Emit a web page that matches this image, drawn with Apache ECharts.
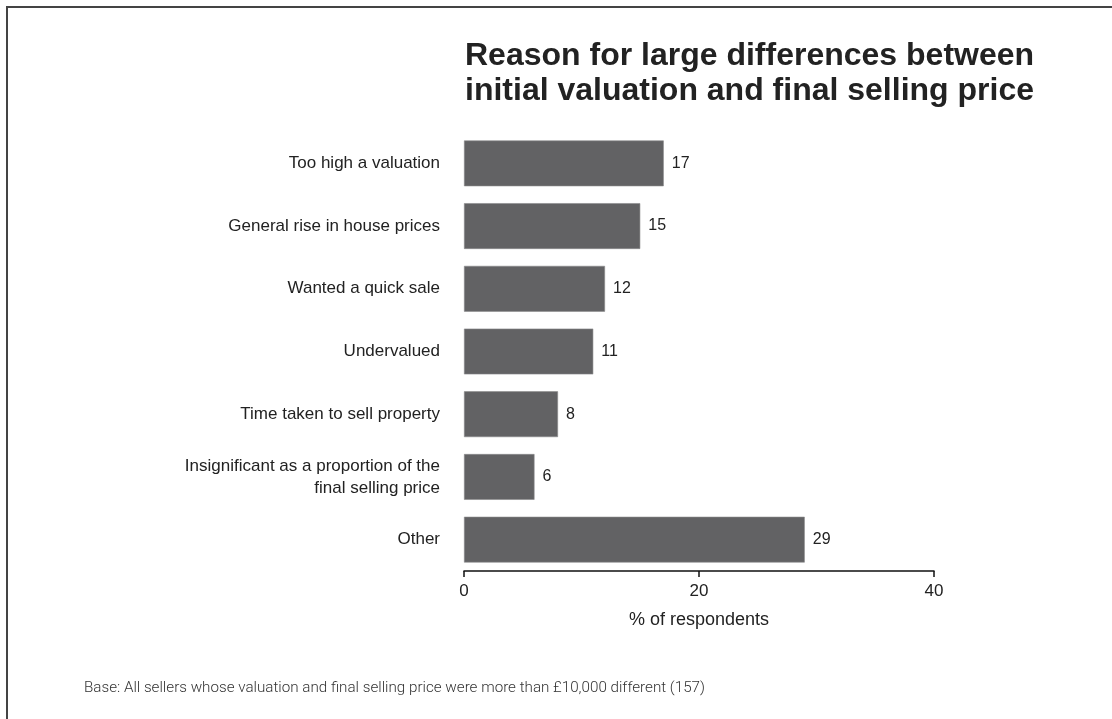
<!DOCTYPE html>
<html>
<head>
<meta charset="utf-8">
<style>
  html, body { margin: 0; padding: 0; background: #fff; }
  #chart { width: 1112px; height: 719px; }
</style>
<script src="https://cdn.jsdelivr.net/npm/echarts@6/dist/echarts.min.js"></script>
</head>
<body>
<div id="chart"></div>
<script>
// Reasons, listed top to bottom
const categories = [
  'Too high a valuation',
  'General rise in house prices',
  'Wanted a quick sale',
  'Undervalued',
  'Time taken to sell property',
  'Insignificant as a proportion of the\nfinal selling price',
  'Other'
];
// Share of respondents (%)
const values = [17, 15, 12, 11, 8, 6, 29];
const xTicks = [0, 20, 40];

const chart = echarts.init(document.getElementById('chart'));

chart.setOption({
  backgroundColor: '#ffffff',
  animation: false,
  title: {
    text: 'Reason for large differences between\ninitial valuation and final selling price',
    left: 460,
    top: 34,
    textStyle: {
      fontFamily: 'Liberation Sans',
      fontWeight: 'bold',
      fontSize: 32,
      lineHeight: 35,
      color: '#222'
    }
  },
  grid: { left: 464, right: 178, top: 132, bottom: 148, containLabel: false },
  xAxis: {
    type: 'value',
    min: xTicks[0],
    max: xTicks[xTicks.length - 1],
    interval: xTicks[1] - xTicks[0],
    name: '% of respondents',
    nameLocation: 'middle',
    nameGap: 40,
    nameTextStyle: { fontFamily: 'Liberation Sans', fontSize: 18, color: '#222' },
    axisLine: { show: true, lineStyle: { color: '#111', width: 1.5 } },
    axisTick: { show: true, length: 6, lineStyle: { color: '#111', width: 1.5 } },
    axisLabel: { fontFamily: 'Liberation Sans', fontSize: 17, color: '#222', margin: 12 },
    splitLine: { show: false }
  },
  yAxis: {
    type: 'category',
    data: categories,
    inverse: true,
    axisLine: { show: false },
    axisTick: { show: false },
    axisLabel: {
      fontFamily: 'Liberation Sans',
      fontSize: 17,
      lineHeight: 22,
      color: '#222',
      margin: 24,
      align: 'right'
    }
  },
  series: [{
    type: 'bar',
    data: values,
    barCategoryGap: '27%',
    itemStyle: { color: '#626264', borderColor: '#8a8a8c', borderWidth: 0.6 },
    label: {
      show: true,
      position: 'right',
      distance: 8,
      fontFamily: 'Liberation Sans',
      fontSize: 16,
      color: '#222'
    }
  }],
  graphic: [
    {
      type: 'polyline',
      shape: { points: [[7, 719], [7, 7], [1112, 7]] },
      style: { stroke: '#444', lineWidth: 2, fill: null }
    },
    {
      type: 'text',
      left: 84,
      top: 681,
      style: {
        text: 'Base: All sellers whose valuation and final selling price were more than \u00a310,000 different (157)',
        fontFamily: 'Roboto',
        fontWeight: 300,
        fontSize: 15.2,
        fill: '#333'
      }
    }
  ]
});
</script>
</body>
</html>
